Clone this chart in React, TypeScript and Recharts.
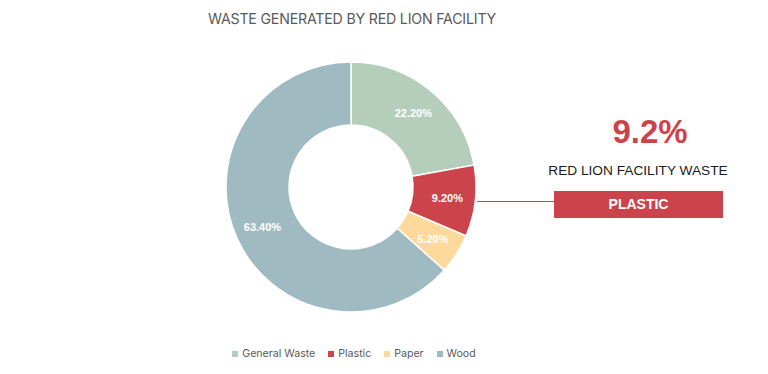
import { PieChart, Pie, Cell } from "recharts";

const categories = ["General Waste", "Plastic", "Paper", "Wood"];
const shares = [22.2, 9.2, 5.2, 63.4];
const colors = ["#b5cebb", "#cc444b", "#fdd99b", "#9fbac1"];

const data = categories.map((name, i) => ({ name, value: shares[i] }));

const RAD = Math.PI / 180;

function renderLabel(props: any) {
  const { cx, cy, midAngle, value } = props;
  const r = 97;
  const x = cx + r * Math.cos(-midAngle * RAD);
  const y = cy + r * Math.sin(-midAngle * RAD);
  return (
    <text
      x={x}
      y={y}
      fill="#ffffff"
      fontSize={11}
      fontWeight={700}
      textAnchor="middle"
      dominantBaseline="central"
      fontFamily="Liberation Sans, Arial, sans-serif"
    >
      {value.toFixed(2)}%
    </text>
  );
}

function LegendRow() {
  return (
    <div
      style={{
        position: "absolute",
        top: 347,
        left: 0,
        width: 708,
        display: "flex",
        justifyContent: "center",
        gap: 13,
        fontSize: 10.6,
        color: "#595959",
      }}
    >
      {categories.map((c, i) => (
        <div key={c} style={{ display: "flex", alignItems: "center", gap: 4 }}>
          <span
            style={{ width: 6, height: 6, background: colors[i], display: "inline-block" }}
          />
          <span>{c}</span>
        </div>
      ))}
    </div>
  );
}

export default function App() {
  return (
    <div
      style={{
        position: "absolute",
        left: 0,
        top: 0,
        width: 768,
        height: 374,
        background: "#ffffff",
        fontFamily: "Inter, Liberation Sans, sans-serif",
      }}
    >
      <div
        style={{
          position: "absolute",
          top: 10,
          left: 0,
          width: 704,
          textAlign: "center",
          fontSize: 14.2,
          color: "#595959",
          letterSpacing: -0.2,
        }}
      >
        WASTE GENERATED BY RED LION FACILITY
      </div>
      <PieChart width={768} height={374} margin={{ top: 0, right: 0, bottom: 0, left: 0 }}>
        <Pie
          data={data}
          dataKey="value"
          nameKey="name"
          cx={351}
          cy={187}
          innerRadius={62}
          outerRadius={125}
          startAngle={90}
          endAngle={-270}
          stroke="#ffffff"
          strokeWidth={1.5}
          label={renderLabel}
          labelLine={false}
          isAnimationActive={false}
        >
          {data.map((d, i) => (
            <Cell key={d.name} fill={colors[i]} />
          ))}
        </Pie>
      </PieChart>
      <LegendRow />
      <div
        style={{
          position: "absolute",
          left: 477,
          top: 201,
          width: 78,
          height: 1,
          background: "#cc444b",
        }}
      />
      <div
        style={{
          position: "absolute",
          left: 566,
          top: 113,
          width: 168,
          textAlign: "center",
          fontFamily: "Liberation Sans, Arial, sans-serif",
          fontWeight: 700,
          fontSize: 33,
          color: "#cc444b",
        }}
      >
        9.2%
      </div>
      <div
        style={{
          position: "absolute",
          left: 538,
          top: 163,
          width: 200,
          textAlign: "center",
          fontFamily: "Liberation Sans, Arial, sans-serif",
          fontSize: 13.7,
          color: "#1a1a1a",
        }}
      >
        RED LION FACILITY WASTE
      </div>
      <div
        style={{
          position: "absolute",
          left: 554,
          top: 191,
          width: 169,
          height: 27,
          lineHeight: "27px",
          background: "#cc444b",
          textAlign: "center",
          fontFamily: "Liberation Sans, Arial, sans-serif",
          fontWeight: 700,
          fontSize: 14,
          color: "#ffffff",
        }}
      >
        PLASTIC
      </div>
    </div>
  );
}
